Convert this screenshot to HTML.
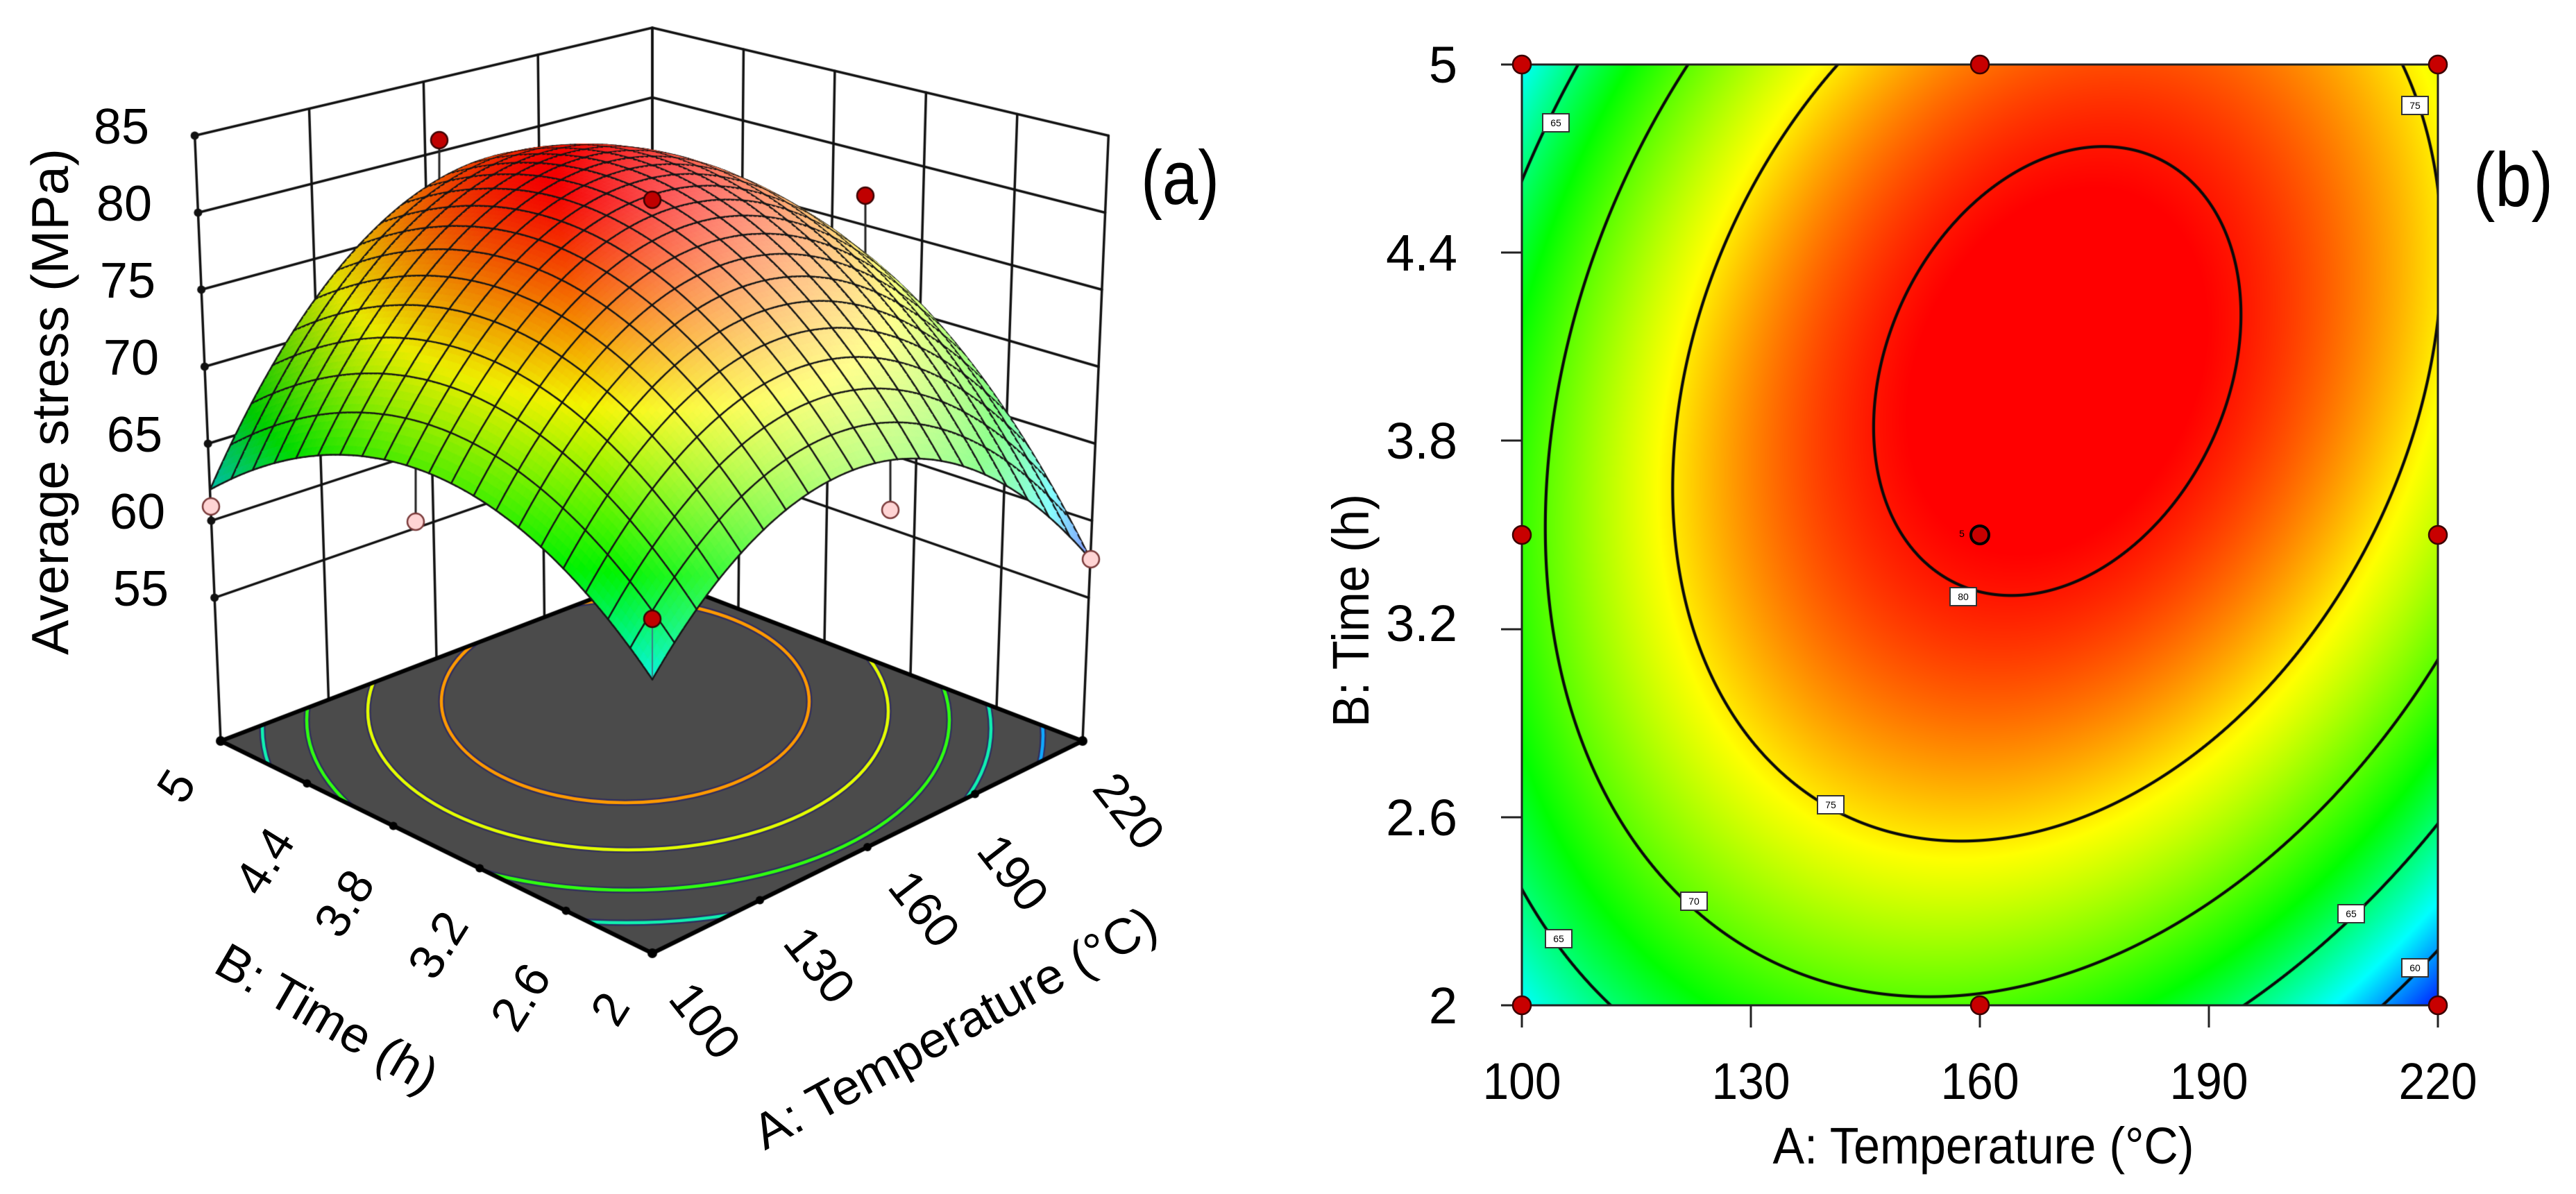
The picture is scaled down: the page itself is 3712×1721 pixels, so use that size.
<!DOCTYPE html>
<html><head><meta charset="utf-8">
<style>
html,body{margin:0;padding:0;background:#fff;}
#wrap{position:relative;width:3712px;height:1721px;overflow:hidden;background:#fff;}
canvas{position:absolute;left:0;top:0;}
svg{position:absolute;left:0;top:0;}
text{font-family:"Liberation Sans",sans-serif;fill:#000;}
.tl{font-size:14px;}
</style></head><body>
<div id="wrap">
<canvas id="c" width="3712" height="1721"></canvas>
<svg width="3712" height="1721" viewBox="0 0 3712 1721">
<!-- ===== Plot (a) texts ===== -->
<g font-size="72" text-anchor="end">
<text x="215" y="207">85</text>
<text x="219" y="318">80</text>
<text x="224" y="429">75</text>
<text x="229" y="540">70</text>
<text x="234" y="651">65</text>
<text x="238" y="762">60</text>
<text x="243" y="873">55</text>
</g>
<text transform="translate(98,579) rotate(-90)" text-anchor="middle" font-size="75" textLength="730" lengthAdjust="spacingAndGlyphs">Average stress (MPa)</text>
<text x="1644" y="294" font-size="110" textLength="113" lengthAdjust="spacingAndGlyphs">(a)</text>
<g font-size="70" text-anchor="middle" dominant-baseline="central">
<text transform="translate(254,1133) rotate(-58)">5</text>
<text transform="translate(381,1241) rotate(-58)">4.4</text>
<text transform="translate(496,1302) rotate(-58)">3.8</text>
<text transform="translate(631,1362) rotate(-58)">3.2</text>
<text transform="translate(750,1437) rotate(-58)">2.6</text>
<text transform="translate(879,1454) rotate(-58)">2</text>
<text transform="translate(1016,1471) rotate(52)">100</text>
<text transform="translate(1181,1391) rotate(52)">130</text>
<text transform="translate(1332,1310) rotate(52)">160</text>
<text transform="translate(1460,1258) rotate(52)">190</text>
<text transform="translate(1627,1169) rotate(52)">220</text>
</g>
<text transform="translate(471,1468) rotate(30)" text-anchor="middle" dominant-baseline="central" font-size="72" textLength="356" lengthAdjust="spacingAndGlyphs">B: Time (h)</text>
<text transform="translate(1376,1482) rotate(-28.6)" text-anchor="middle" dominant-baseline="central" font-size="72" textLength="650" lengthAdjust="spacingAndGlyphs">A: Temperature (°C)</text>

<!-- ===== Plot (b) ===== -->
<rect x="2193" y="93" width="1320" height="1356" fill="none" stroke="#222" stroke-width="3"/>
<g stroke="#222" stroke-width="3">
<line x1="2163" y1="93" x2="2193" y2="93"/>
<line x1="2163" y1="364" x2="2193" y2="364"/>
<line x1="2163" y1="635" x2="2193" y2="635"/>
<line x1="2163" y1="907" x2="2193" y2="907"/>
<line x1="2163" y1="1178" x2="2193" y2="1178"/>
<line x1="2163" y1="1449" x2="2193" y2="1449"/>
<line x1="2193" y1="1449" x2="2193" y2="1481"/>
<line x1="2523" y1="1449" x2="2523" y2="1481"/>
<line x1="2853" y1="1449" x2="2853" y2="1481"/>
<line x1="3183" y1="1449" x2="3183" y2="1481"/>
<line x1="3513" y1="1449" x2="3513" y2="1481"/>
</g>
<g font-size="74" text-anchor="end">
<text x="2100" y="119">5</text>
<text x="2100" y="390">4.4</text>
<text x="2100" y="661">3.8</text>
<text x="2100" y="924">3.2</text>
<text x="2100" y="1204">2.6</text>
<text x="2100" y="1475">2</text>
</g>
<g font-size="74" text-anchor="middle">
<text x="2193" y="1584" textLength="113" lengthAdjust="spacingAndGlyphs">100</text>
<text x="2523" y="1584" textLength="113" lengthAdjust="spacingAndGlyphs">130</text>
<text x="2853" y="1584" textLength="113" lengthAdjust="spacingAndGlyphs">160</text>
<text x="3183" y="1584" textLength="113" lengthAdjust="spacingAndGlyphs">190</text>
<text x="3513" y="1584" textLength="113" lengthAdjust="spacingAndGlyphs">220</text>
</g>
<text x="2858" y="1677" text-anchor="middle" font-size="74" textLength="607" lengthAdjust="spacingAndGlyphs">A: Temperature (°C)</text>
<text transform="translate(1972,880) rotate(-90)" text-anchor="middle" font-size="74" textLength="336" lengthAdjust="spacingAndGlyphs">B: Time (h)</text>
<text x="3564" y="297" font-size="110" textLength="115" lengthAdjust="spacingAndGlyphs">(b)</text>

<!-- contour label boxes -->
<g stroke="#333" stroke-width="2" fill="#fff">
<rect x="2223" y="164" width="38" height="26"/>
<rect x="3461" y="139" width="38" height="26"/>
<rect x="2810" y="847" width="38" height="26"/>
<rect x="2619" y="1147" width="38" height="26"/>
<rect x="2422" y="1286" width="38" height="26"/>
<rect x="2227" y="1340" width="38" height="26"/>
<rect x="3369" y="1304" width="38" height="26"/>
<rect x="3461" y="1382" width="38" height="26"/>
</g>
<g class="tl" text-anchor="middle">
<text x="2242" y="182">65</text>
<text x="3480" y="157">75</text>
<text x="2829" y="865">80</text>
<text x="2638" y="1165">75</text>
<text x="2441" y="1304">70</text>
<text x="2246" y="1358">65</text>
<text x="3388" y="1322">65</text>
<text x="3480" y="1400">60</text>
</g>
<!-- design points -->
<g fill="#c80000" stroke="#3a0000" stroke-width="2.5">
<circle cx="2193" cy="93" r="13"/>
<circle cx="2853" cy="93" r="13"/>
<circle cx="3513" cy="93" r="13"/>
<circle cx="2193" cy="771" r="13"/>
<circle cx="2853" cy="771" r="13" stroke="#000" stroke-width="4"/>
<circle cx="3513" cy="771" r="13"/>
<circle cx="2193" cy="1449" r="13"/>
<circle cx="2853" cy="1449" r="13"/>
<circle cx="3513" cy="1449" r="13"/>
</g>
<text x="2827" y="774" font-size="14" text-anchor="middle">5</text>
</svg>
</div>
<script>
(function(){
var cv=document.getElementById('c');var g=cv.getContext('2d');
function Z(x,y){return 80.6+1.875*x+4.125*y+4.125*x*y-9.8*x*x-6.92*y*y;}
function Zx(x,y){return 1.875+4.125*y-19.6*x;}
function Zy(x,y){return 4.125+4.125*x-13.84*y;}
function mk(st){return function(z){
  if(z<=st[0][0])return [st[0][1],st[0][2],st[0][3]];
  for(var i=1;i<st.length;i++){var b=st[i];if(z<=b[0]){var a=st[i-1];var t=(z-a[0])/(b[0]-a[0]);
    return [a[1]+(b[1]-a[1])*t,a[2]+(b[2]-a[2])*t,a[3]+(b[3]-a[3])*t];}}
  var l=st[st.length-1];return [l[1],l[2],l[3]];};}
var cmapB=mk([[57,0,0,255],[62,0,255,255],[67.5,0,255,0],[74.5,255,255,0],[80.5,255,0,0]]);
var cmapA=mk([[57,0,0,255],[61.5,0,255,255],[66.5,0,255,0],[73.5,255,255,0],[81,255,0,0]]);

/* ---------- plot (b) heat map ---------- */
(function(){
var X0=2193,Y0=93,W=1320,H=1356;
var im=g.createImageData(W,H);var d=im.data;
var lv=[60,65,70,75,80];
for(var j=0;j<H;j++){var y=1-2*(j+0.5)/H;
  for(var i=0;i<W;i++){var x=-1+2*(i+0.5)/W;var z=Z(x,y);var c=cmapB(z);
    var gx=Zx(x,y)*2/W,gy=Zy(x,y)*2/H;var gm=Math.sqrt(gx*gx+gy*gy)+1e-9;
    var dm=1e9;for(var k=0;k<5;k++){var dd=Math.abs(z-lv[k])/gm;if(dd<dm)dm=dd;}
    var a=2.6-dm;a=a<0?0:(a>1?1:a);
    var p=(j*W+i)*4;
    d[p]=c[0]*(1-a)+10*a;d[p+1]=c[1]*(1-a)+10*a;d[p+2]=c[2]*(1-a)+10*a;d[p+3]=255;}}
g.putImageData(im,X0,Y0);
})();

/* ---------- plot (a) 3D ---------- */
var F=[940,1374],R=[1560,1068],L=[318,1068],K=[940,830];
var zf=45.7;
function P(x,y,z){var u=(x+1)/2,v=(y+1)/2;var a=(1-u)*(1-v),b=u*(1-v),c=(1-u)*v,e=u*v;
  var px=F[0]*a+R[0]*b+L[0]*c+K[0]*e,py=F[1]*a+R[1]*b+L[1]*c+K[1]*e;
  var s=24.2*a+22.2*b+22.2*c+20.1*e;var h=z-zf;
  return [px+0.475*(x-y)*h,py-s*h];}
function line(p,q,w,col){g.beginPath();g.moveTo(p[0],p[1]);g.lineTo(q[0],q[1]);g.lineWidth=w;g.strokeStyle=col;g.stroke();}
function dot(p,r,col,sc,sw){g.beginPath();g.arc(p[0],p[1],r,0,Math.PI*2);g.fillStyle=col;g.fill();if(sc){g.lineWidth=sw;g.strokeStyle=sc;g.stroke();}}
g.lineCap='round';g.lineJoin='round';

// walls
var zs=[55,60,65,70,75,80,85];
zs.forEach(function(z){line(P(-1,1,z),P(1,1,z),3.5,'#111');line(P(1,1,z),P(1,-1,z),3.5,'#111');});
[-1,-0.5,0,0.5,1].forEach(function(x){line(P(x,1,zf),P(x,1,85),3.5,'#111');});
[1,0.6,0.2,-0.2,-0.6,-1].forEach(function(y){line(P(1,y,zf),P(1,y,85),3.5,'#111');});
zs.forEach(function(z){dot(P(-1,1,z),6,'#111');});

// floor
function floorPath(){g.beginPath();g.moveTo(F[0],F[1]);g.lineTo(R[0],R[1]);g.lineTo(K[0],K[1]);g.lineTo(L[0],L[1]);g.closePath();}
floorPath();g.fillStyle='#4b4b4b';g.fill();
g.save();floorPath();g.clip();
var ells=[[901,1011,265,146,'#ff9a00'],[905,1025,375,200,'#e4ff00'],[905,1038,463,245,'#30ff10'],[903,1050,525,280,'#10f0b0'],[903,1060,600,318,'#10a8ff']];
ells.forEach(function(e){g.beginPath();g.ellipse(e[0],e[1],e[2],e[3],0,0,Math.PI*2);
  g.lineWidth=9;g.strokeStyle='#2f2d5e';g.stroke();g.lineWidth=4.5;g.strokeStyle=e[4];g.stroke();});
g.restore();
floorPath();g.lineWidth=6;g.strokeStyle='#000';g.stroke();
[-0.6,-0.2,0.2,0.6].forEach(function(y){dot(P(-1,y,zf),6,'#000');});
[-0.5,0,0.5].forEach(function(x){dot(P(x,-1,zf),6,'#000');});
dot(F,7,'#000');dot(L,7,'#000');dot(R,7,'#000');

// stems behind surface
line([633,202],[633,340],3,'#222');line([1247,282],[1247,420],3,'#222');
line([599,752],[599,610],3,'#222');line([1283,735],[1283,610],3,'#222');

// surface
var N=100,M=5;var V=[];
for(var i=0;i<=N;i++){V.push([]);for(var j=0;j<=N;j++){var x=-1+2*i/N,y=-1+2*j/N;V[i].push(P(x,y,Z(x,y)));}}
var Ld=[0.35,-0.7,0.62];var Ln=Math.sqrt(Ld[0]*Ld[0]+Ld[1]*Ld[1]+Ld[2]*Ld[2]);
var order=[];for(i=0;i<N;i++)for(j=0;j<N;j++)order.push([i,j]);
order.sort(function(a,b){return (b[0]+b[1])-(a[0]+a[1]);});
function seg(p,q){g.beginPath();g.moveTo(p[0],p[1]);g.lineTo(q[0],q[1]);g.stroke();}
for(var o=0;o<order.length;o++){
  i=order[o][0];j=order[o][1];
  var x=-1+2*(i+0.5)/N,y=-1+2*(j+0.5)/N,z=Z(x,y);
  var kk=0.064;var nx=-Zx(x,y)*kk,ny=-Zy(x,y)*kk,nz=1;var nn=Math.sqrt(nx*nx+ny*ny+nz*nz);
  var f=(nx*Ld[0]+ny*Ld[1]+nz*Ld[2])/(nn*Ln);
  var br=f>=0?0.92+0.08*f:Math.max(0.45,0.92-2.5*f*f);
  var w=Math.min(0.58,Math.max(0,(f-0.45)*1.05));
  var c=cmapA(z);
  var col='rgb('+Math.round(c[0]*br*(1-w)+255*w)+','+Math.round(c[1]*br*(1-w)+255*w)+','+Math.round(c[2]*br*(1-w)+255*w)+')';
  var a=V[i][j],b=V[i+1][j],cc=V[i+1][j+1],dd=V[i][j+1];
  g.beginPath();g.moveTo(a[0],a[1]);g.lineTo(b[0],b[1]);g.lineTo(cc[0],cc[1]);g.lineTo(dd[0],dd[1]);g.closePath();
  g.fillStyle=col;g.fill();g.lineWidth=1.3;g.strokeStyle=col;g.stroke();
  g.lineWidth=2.5;g.strokeStyle='#151515';
  if((i+1)%M==0)seg(b,cc);
  if((j+1)%M==0)seg(dd,cc);
  if(i==0)seg(a,dd);
  if(j==0)seg(a,b);
}
// front stem and points
line([940,892],[940,975],2,'#3a7d86');
[[633,202],[940,288],[1247,282],[940,892]].forEach(function(p){dot(p,12,'#c00000','#3a0000',2.5);});
[[304,730],[599,752],[1283,735],[1572,806]].forEach(function(p){dot(p,12,'#ffd4d4','#7a3a3a',2.5);});
})();
</script>
</body></html>
